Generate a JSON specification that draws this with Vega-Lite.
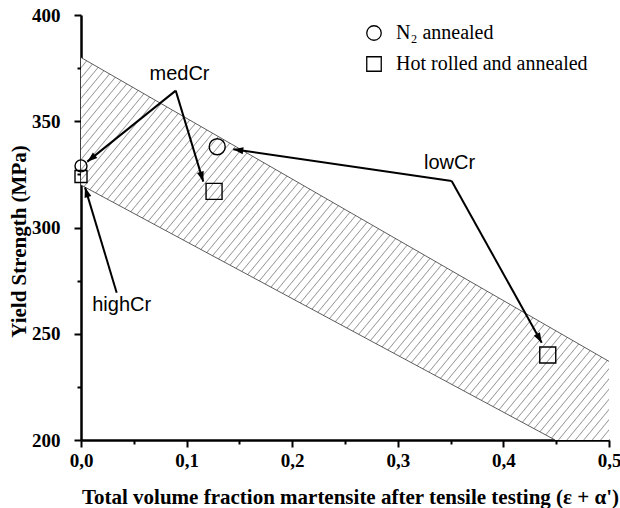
{
  "$schema": "https://vega.github.io/schema/vega-lite/v6.json",
  "width": 528,
  "height": 425,
  "autosize": "none",
  "padding": {"left": 81, "top": 15, "right": 11, "bottom": 68},
  "background": "white",
  "config": {"view": {"stroke": null}},
  "datasets": {
    "band": [
      {"x": 0, "hi": 380, "lo": 320},
      {"x": 0.449, "hi": 251.6, "lo": 200},
      {"x": 0.5, "hi": 237, "lo": 200}
    ],
    "edges": [
      {"x": 0, "y": 380, "x2": 0.5, "y2": 237},
      {"x": 0, "y": 320, "x2": 0.449, "y2": 200}
    ],
    "arrows": [
      {"id": "m1", "x": 0.0897, "y": 364.4, "x2": 0.006, "y2": 331.0},
      {"id": "m2", "x": 0.0897, "y": 364.4, "x2": 0.1158, "y2": 321.6},
      {"id": "h1", "x": 0.0338, "y": 269.3, "x2": 0.0038, "y2": 318.9},
      {"id": "l1", "x": 0.351, "y": 321.9, "x2": 0.1442, "y2": 336.8},
      {"id": "l2", "x": 0.351, "y": 321.9, "x2": 0.4363, "y2": 245.8}
    ],
    "points": [
      {"series": "N₂ annealed", "x": 0, "y": 329},
      {"series": "N₂ annealed", "x": 0.129, "y": 338},
      {"series": "Hot rolled and annealed", "x": 0, "y": 324},
      {"series": "Hot rolled and annealed", "x": 0.126, "y": 317},
      {"series": "Hot rolled and annealed", "x": 0.442, "y": 240}
    ],
    "labels": [
      {"text": "medCr", "x": 0.0933, "y": 372.2},
      {"text": "highCr", "x": 0.0385, "y": 263.5},
      {"text": "lowCr", "x": 0.349, "y": 330.4}
    ]
  },
  "layer": [
    {
      "layer": [
        {
          "data": {"name": "band"},
          "mark": {
            "type": "area",
            "stroke": null,
            "fill": {
              "gradient": "linear", "x1": 0, "y1": 0, "x2": 1.1767, "y2": 0.7057,
              "stops": [
{"offset":0,"color":"#999"},{"offset":0.0013,"color":"#fff"},{"offset":0.0087,"color":"#fff"},
{"offset":0.01,"color":"#999"},{"offset":0.0113,"color":"#fff"},{"offset":0.0187,"color":"#fff"},
{"offset":0.02,"color":"#999"},{"offset":0.0213,"color":"#fff"},{"offset":0.0287,"color":"#fff"},
{"offset":0.03,"color":"#999"},{"offset":0.0313,"color":"#fff"},{"offset":0.0387,"color":"#fff"},
{"offset":0.04,"color":"#999"},{"offset":0.0413,"color":"#fff"},{"offset":0.0487,"color":"#fff"},
{"offset":0.05,"color":"#999"},{"offset":0.0513,"color":"#fff"},{"offset":0.0587,"color":"#fff"},
{"offset":0.06,"color":"#999"},{"offset":0.0613,"color":"#fff"},{"offset":0.0687,"color":"#fff"},
{"offset":0.07,"color":"#999"},{"offset":0.0713,"color":"#fff"},{"offset":0.0787,"color":"#fff"},
{"offset":0.08,"color":"#999"},{"offset":0.0813,"color":"#fff"},{"offset":0.0887,"color":"#fff"},
{"offset":0.09,"color":"#999"},{"offset":0.0913,"color":"#fff"},{"offset":0.0987,"color":"#fff"},
{"offset":0.10,"color":"#999"},{"offset":0.1013,"color":"#fff"},{"offset":0.1087,"color":"#fff"},
{"offset":0.11,"color":"#999"},{"offset":0.1113,"color":"#fff"},{"offset":0.1187,"color":"#fff"},
{"offset":0.12,"color":"#999"},{"offset":0.1213,"color":"#fff"},{"offset":0.1287,"color":"#fff"},
{"offset":0.13,"color":"#999"},{"offset":0.1313,"color":"#fff"},{"offset":0.1387,"color":"#fff"},
{"offset":0.14,"color":"#999"},{"offset":0.1413,"color":"#fff"},{"offset":0.1487,"color":"#fff"},
{"offset":0.15,"color":"#999"},{"offset":0.1513,"color":"#fff"},{"offset":0.1587,"color":"#fff"},
{"offset":0.16,"color":"#999"},{"offset":0.1613,"color":"#fff"},{"offset":0.1687,"color":"#fff"},
{"offset":0.17,"color":"#999"},{"offset":0.1713,"color":"#fff"},{"offset":0.1787,"color":"#fff"},
{"offset":0.18,"color":"#999"},{"offset":0.1813,"color":"#fff"},{"offset":0.1887,"color":"#fff"},
{"offset":0.19,"color":"#999"},{"offset":0.1913,"color":"#fff"},{"offset":0.1987,"color":"#fff"},
{"offset":0.20,"color":"#999"},{"offset":0.2013,"color":"#fff"},{"offset":0.2087,"color":"#fff"},
{"offset":0.21,"color":"#999"},{"offset":0.2113,"color":"#fff"},{"offset":0.2187,"color":"#fff"},
{"offset":0.22,"color":"#999"},{"offset":0.2213,"color":"#fff"},{"offset":0.2287,"color":"#fff"},
{"offset":0.23,"color":"#999"},{"offset":0.2313,"color":"#fff"},{"offset":0.2387,"color":"#fff"},
{"offset":0.24,"color":"#999"},{"offset":0.2413,"color":"#fff"},{"offset":0.2487,"color":"#fff"},
{"offset":0.25,"color":"#999"},{"offset":0.2513,"color":"#fff"},{"offset":0.2587,"color":"#fff"},
{"offset":0.26,"color":"#999"},{"offset":0.2613,"color":"#fff"},{"offset":0.2687,"color":"#fff"},
{"offset":0.27,"color":"#999"},{"offset":0.2713,"color":"#fff"},{"offset":0.2787,"color":"#fff"},
{"offset":0.28,"color":"#999"},{"offset":0.2813,"color":"#fff"},{"offset":0.2887,"color":"#fff"},
{"offset":0.29,"color":"#999"},{"offset":0.2913,"color":"#fff"},{"offset":0.2987,"color":"#fff"},
{"offset":0.30,"color":"#999"},{"offset":0.3013,"color":"#fff"},{"offset":0.3087,"color":"#fff"},
{"offset":0.31,"color":"#999"},{"offset":0.3113,"color":"#fff"},{"offset":0.3187,"color":"#fff"},
{"offset":0.32,"color":"#999"},{"offset":0.3213,"color":"#fff"},{"offset":0.3287,"color":"#fff"},
{"offset":0.33,"color":"#999"},{"offset":0.3313,"color":"#fff"},{"offset":0.3387,"color":"#fff"},
{"offset":0.34,"color":"#999"},{"offset":0.3413,"color":"#fff"},{"offset":0.3487,"color":"#fff"},
{"offset":0.35,"color":"#999"},{"offset":0.3513,"color":"#fff"},{"offset":0.3587,"color":"#fff"},
{"offset":0.36,"color":"#999"},{"offset":0.3613,"color":"#fff"},{"offset":0.3687,"color":"#fff"},
{"offset":0.37,"color":"#999"},{"offset":0.3713,"color":"#fff"},{"offset":0.3787,"color":"#fff"},
{"offset":0.38,"color":"#999"},{"offset":0.3813,"color":"#fff"},{"offset":0.3887,"color":"#fff"},
{"offset":0.39,"color":"#999"},{"offset":0.3913,"color":"#fff"},{"offset":0.3987,"color":"#fff"},
{"offset":0.40,"color":"#999"},{"offset":0.4013,"color":"#fff"},{"offset":0.4087,"color":"#fff"},
{"offset":0.41,"color":"#999"},{"offset":0.4113,"color":"#fff"},{"offset":0.4187,"color":"#fff"},
{"offset":0.42,"color":"#999"},{"offset":0.4213,"color":"#fff"},{"offset":0.4287,"color":"#fff"},
{"offset":0.43,"color":"#999"},{"offset":0.4313,"color":"#fff"},{"offset":0.4387,"color":"#fff"},
{"offset":0.44,"color":"#999"},{"offset":0.4413,"color":"#fff"},{"offset":0.4487,"color":"#fff"},
{"offset":0.45,"color":"#999"},{"offset":0.4513,"color":"#fff"},{"offset":0.4587,"color":"#fff"},
{"offset":0.46,"color":"#999"},{"offset":0.4613,"color":"#fff"},{"offset":0.4687,"color":"#fff"},
{"offset":0.47,"color":"#999"},{"offset":0.4713,"color":"#fff"},{"offset":0.4787,"color":"#fff"},
{"offset":0.48,"color":"#999"},{"offset":0.4813,"color":"#fff"},{"offset":0.4887,"color":"#fff"},
{"offset":0.49,"color":"#999"},{"offset":0.4913,"color":"#fff"},{"offset":0.4987,"color":"#fff"},
{"offset":0.50,"color":"#999"},{"offset":0.5013,"color":"#fff"},{"offset":0.5087,"color":"#fff"},
{"offset":0.51,"color":"#999"},{"offset":0.5113,"color":"#fff"},{"offset":0.5187,"color":"#fff"},
{"offset":0.52,"color":"#999"},{"offset":0.5213,"color":"#fff"},{"offset":0.5287,"color":"#fff"},
{"offset":0.53,"color":"#999"},{"offset":0.5313,"color":"#fff"},{"offset":0.5387,"color":"#fff"},
{"offset":0.54,"color":"#999"},{"offset":0.5413,"color":"#fff"},{"offset":0.5487,"color":"#fff"},
{"offset":0.55,"color":"#999"},{"offset":0.5513,"color":"#fff"},{"offset":0.5587,"color":"#fff"},
{"offset":0.56,"color":"#999"},{"offset":0.5613,"color":"#fff"},{"offset":0.5687,"color":"#fff"},
{"offset":0.57,"color":"#999"},{"offset":0.5713,"color":"#fff"},{"offset":0.5787,"color":"#fff"},
{"offset":0.58,"color":"#999"},{"offset":0.5813,"color":"#fff"},{"offset":0.5887,"color":"#fff"},
{"offset":0.59,"color":"#999"},{"offset":0.5913,"color":"#fff"},{"offset":0.5987,"color":"#fff"},
{"offset":0.60,"color":"#999"},{"offset":0.6013,"color":"#fff"},{"offset":0.6087,"color":"#fff"},
{"offset":0.61,"color":"#999"},{"offset":0.6113,"color":"#fff"},{"offset":0.6187,"color":"#fff"},
{"offset":0.62,"color":"#999"},{"offset":0.6213,"color":"#fff"},{"offset":0.6287,"color":"#fff"},
{"offset":0.63,"color":"#999"},{"offset":0.6313,"color":"#fff"},{"offset":0.6387,"color":"#fff"},
{"offset":0.64,"color":"#999"},{"offset":0.6413,"color":"#fff"},{"offset":0.6487,"color":"#fff"},
{"offset":0.65,"color":"#999"},{"offset":0.6513,"color":"#fff"},{"offset":0.6587,"color":"#fff"},
{"offset":0.66,"color":"#999"},{"offset":0.6613,"color":"#fff"},{"offset":0.6687,"color":"#fff"},
{"offset":0.67,"color":"#999"},{"offset":0.6713,"color":"#fff"},{"offset":0.6787,"color":"#fff"},
{"offset":0.68,"color":"#999"},{"offset":0.6813,"color":"#fff"},{"offset":0.6887,"color":"#fff"},
{"offset":0.69,"color":"#999"},{"offset":0.6913,"color":"#fff"},{"offset":0.6987,"color":"#fff"},
{"offset":0.70,"color":"#999"},{"offset":0.7013,"color":"#fff"},{"offset":0.7087,"color":"#fff"},
{"offset":0.71,"color":"#999"},{"offset":0.7113,"color":"#fff"},{"offset":0.7187,"color":"#fff"},
{"offset":0.72,"color":"#999"},{"offset":0.7213,"color":"#fff"},{"offset":0.7287,"color":"#fff"},
{"offset":0.73,"color":"#999"},{"offset":0.7313,"color":"#fff"},{"offset":0.7387,"color":"#fff"},
{"offset":0.74,"color":"#999"},{"offset":0.7413,"color":"#fff"},{"offset":0.7487,"color":"#fff"},
{"offset":0.75,"color":"#999"},{"offset":0.7513,"color":"#fff"},{"offset":0.7587,"color":"#fff"},
{"offset":0.76,"color":"#999"},{"offset":0.7613,"color":"#fff"},{"offset":0.7687,"color":"#fff"},
{"offset":0.77,"color":"#999"},{"offset":0.7713,"color":"#fff"},{"offset":0.7787,"color":"#fff"},
{"offset":0.78,"color":"#999"},{"offset":0.7813,"color":"#fff"},{"offset":0.7887,"color":"#fff"},
{"offset":0.79,"color":"#999"},{"offset":0.7913,"color":"#fff"},{"offset":0.7987,"color":"#fff"},
{"offset":0.80,"color":"#999"},{"offset":0.8013,"color":"#fff"},{"offset":0.8087,"color":"#fff"},
{"offset":0.81,"color":"#999"},{"offset":0.8113,"color":"#fff"},{"offset":0.8187,"color":"#fff"},
{"offset":0.82,"color":"#999"},{"offset":0.8213,"color":"#fff"},{"offset":0.8287,"color":"#fff"},
{"offset":0.83,"color":"#999"},{"offset":0.8313,"color":"#fff"},{"offset":0.8387,"color":"#fff"},
{"offset":0.84,"color":"#999"},{"offset":0.8413,"color":"#fff"},{"offset":0.8487,"color":"#fff"},
{"offset":0.85,"color":"#999"},{"offset":0.8513,"color":"#fff"},{"offset":0.8587,"color":"#fff"},
{"offset":0.86,"color":"#999"},{"offset":0.8613,"color":"#fff"},{"offset":0.8687,"color":"#fff"},
{"offset":0.87,"color":"#999"},{"offset":0.8713,"color":"#fff"},{"offset":0.8787,"color":"#fff"},
{"offset":0.88,"color":"#999"},{"offset":0.8813,"color":"#fff"},{"offset":0.8887,"color":"#fff"},
{"offset":0.89,"color":"#999"},{"offset":0.8913,"color":"#fff"},{"offset":0.8987,"color":"#fff"},
{"offset":0.90,"color":"#999"},{"offset":0.9013,"color":"#fff"},{"offset":0.9087,"color":"#fff"},
{"offset":0.91,"color":"#999"},{"offset":0.9113,"color":"#fff"},{"offset":0.9187,"color":"#fff"},
{"offset":0.92,"color":"#999"},{"offset":0.9213,"color":"#fff"},{"offset":0.9287,"color":"#fff"},
{"offset":0.93,"color":"#999"},{"offset":0.9313,"color":"#fff"},{"offset":0.9387,"color":"#fff"},
{"offset":0.94,"color":"#999"},{"offset":0.9413,"color":"#fff"},{"offset":0.9487,"color":"#fff"},
{"offset":0.95,"color":"#999"},{"offset":0.9513,"color":"#fff"},{"offset":0.9587,"color":"#fff"},
{"offset":0.96,"color":"#999"},{"offset":0.9613,"color":"#fff"},{"offset":0.9687,"color":"#fff"},
{"offset":0.97,"color":"#999"},{"offset":0.9713,"color":"#fff"},{"offset":0.9787,"color":"#fff"},
{"offset":0.98,"color":"#999"},{"offset":0.9813,"color":"#fff"},{"offset":0.9887,"color":"#fff"},
{"offset":0.99,"color":"#999"},{"offset":0.9913,"color":"#fff"},{"offset":0.9987,"color":"#fff"},
{"offset":1,"color":"#999"}
              ]
            }
          },
          "encoding": {
            "x": {
              "field": "x", "type": "quantitative",
              "scale": {"domain": [0, 0.5], "nice": false, "zero": false},
              "axis": {
                "orient": "bottom",
                "values": [0, 0.1, 0.2, 0.3, 0.4, 0.5],
                "labelExpr": "replace(format(datum.value, '.1f'), '.', ',')",
                "title": "Total volume fraction martensite after tensile testing (ε + α')",
                "grid": false,
                "domainColor": "black", "domainWidth": 2.5,
                "tickColor": "black", "tickWidth": 2, "tickSize": 7,
                "labelFont": "Liberation Serif", "labelFontWeight": "bold", "labelFontSize": 19, "labelColor": "black", "labelPadding": 4,
                "labelFlush": false, "labelOverlap": false,
                "titleFont": "Liberation Serif", "titleFontWeight": "bold", "titleFontSize": 21, "titleColor": "black",
                "titleX": 269, "titleY": 57, "titleBaseline": "middle", "titleAlign": "center"
              }
            },
            "y": {
              "field": "hi", "type": "quantitative",
              "scale": {"domain": [200, 400], "nice": false, "zero": false},
              "axis": {
                "orient": "left",
                "values": [200, 250, 300, 350, 400],
                "title": "Yield Strength (MPa)",
                "grid": false,
                "domainColor": "black", "domainWidth": 2.5,
                "tickColor": "black", "tickWidth": 2, "tickSize": 7,
                "labelFont": "Liberation Serif", "labelFontWeight": "bold", "labelFontSize": 19, "labelColor": "black", "labelPadding": 14,
                "labelFlush": false, "labelOverlap": false,
                "titleFont": "Liberation Serif", "titleFontWeight": "bold", "titleFontSize": 21, "titleColor": "black",
                "titleX": -62, "titleY": 226, "titleBaseline": "middle", "titleAlign": "center", "titleAngle": -90
              }
            },
            "y2": {"field": "lo"}
          }
        },
        {
          "data": {"name": "edges"},
          "mark": {"type": "rule", "color": "#333", "strokeWidth": 0.8},
          "encoding": {
            "x": {"field": "x", "type": "quantitative"},
            "y": {"field": "y", "type": "quantitative"},
            "x2": {"field": "x2"},
            "y2": {"field": "y2"}
          }
        },
        {
          "data": {"name": "arrows"},
          "mark": {"type": "rule", "color": "black", "strokeWidth": 2},
          "encoding": {
            "x": {"field": "x", "type": "quantitative"},
            "y": {"field": "y", "type": "quantitative"},
            "x2": {"field": "x2"},
            "y2": {"field": "y2"}
          }
        },
        {
          "data": {"name": "arrows"},
          "transform": [{"filter": "datum.id == 'm1'"}],
          "mark": {"type": "point", "shape": "M0,0L0.7,2L-0.7,2Z", "angle": 231, "filled": true, "color": "black", "opacity": 1, "size": 100},
          "encoding": {"x": {"field": "x2", "type": "quantitative"}, "y": {"field": "y2", "type": "quantitative"}}
        },
        {
          "data": {"name": "arrows"},
          "transform": [{"filter": "datum.id == 'm2'"}],
          "mark": {"type": "point", "shape": "M0,0L0.7,2L-0.7,2Z", "angle": 163, "filled": true, "color": "black", "opacity": 1, "size": 100},
          "encoding": {"x": {"field": "x2", "type": "quantitative"}, "y": {"field": "y2", "type": "quantitative"}}
        },
        {
          "data": {"name": "arrows"},
          "transform": [{"filter": "datum.id == 'h1'"}],
          "mark": {"type": "point", "shape": "M0,0L0.7,2L-0.7,2Z", "angle": 343, "filled": true, "color": "black", "opacity": 1, "size": 100},
          "encoding": {"x": {"field": "x2", "type": "quantitative"}, "y": {"field": "y2", "type": "quantitative"}}
        },
        {
          "data": {"name": "arrows"},
          "transform": [{"filter": "datum.id == 'l1'"}],
          "mark": {"type": "point", "shape": "M0,0L0.7,2L-0.7,2Z", "angle": 278, "filled": true, "color": "black", "opacity": 1, "size": 100},
          "encoding": {"x": {"field": "x2", "type": "quantitative"}, "y": {"field": "y2", "type": "quantitative"}}
        },
        {
          "data": {"name": "arrows"},
          "transform": [{"filter": "datum.id == 'l2'"}],
          "mark": {"type": "point", "shape": "M0,0L0.7,2L-0.7,2Z", "angle": 151, "filled": true, "color": "black", "opacity": 1, "size": 100},
          "encoding": {"x": {"field": "x2", "type": "quantitative"}, "y": {"field": "y2", "type": "quantitative"}}
        },
        {
          "data": {"name": "points"},
          "transform": [{"filter": "datum.x > 0"}],
          "mark": {"type": "point", "filled": false, "color": "black", "strokeWidth": 1.4, "opacity": 1, "size": 256},
          "encoding": {
            "x": {"field": "x", "type": "quantitative"},
            "y": {"field": "y", "type": "quantitative"},
            "shape": {
              "field": "series", "type": "nominal",
              "scale": {"domain": ["N₂ annealed", "Hot rolled and annealed"], "range": ["circle", "square"]},
              "legend": {
                "title": null, "orient": "none", "legendX": 283, "legendY": 8,
                "symbolSize": 210, "symbolStrokeColor": "black", "symbolStrokeWidth": 1.3, "symbolOpacity": 1,
                "labelFont": "Liberation Serif", "labelFontSize": 20, "labelColor": "black", "labelOffset": 12, "labelLimit": 0,
                "rowPadding": 11, "padding": 0
              }
            }
          }
        },
        {
          "data": {"name": "points"},
          "transform": [{"filter": "datum.x == 0"}],
          "mark": {"type": "point", "filled": false, "color": "black", "strokeWidth": 1.4, "opacity": 1, "size": 144},
          "encoding": {
            "x": {"field": "x", "type": "quantitative"},
            "y": {"field": "y", "type": "quantitative"},
            "shape": {"field": "series", "type": "nominal"}
          }
        },
        {
          "data": {"name": "labels"},
          "mark": {"type": "text", "font": "Liberation Sans", "fontSize": 20, "color": "black", "align": "center", "baseline": "middle"},
          "encoding": {
            "x": {"field": "x", "type": "quantitative"},
            "y": {"field": "y", "type": "quantitative"},
            "text": {"field": "text"}
          }
        }
      ]
    },
    {
      "data": {"name": "points"},
      "transform": [{"filter": "false"}],
      "mark": {"type": "point"},
      "encoding": {
        "x": {
          "field": "x", "type": "quantitative",
          "axis": {"orient": "bottom", "values": [0.05, 0.15, 0.25, 0.35, 0.45], "labels": false, "domain": false, "grid": false, "title": null, "tickColor": "black", "tickWidth": 2, "tickSize": 4}
        },
        "y": {
          "field": "y", "type": "quantitative",
          "axis": {"orient": "left", "values": [225, 275, 325, 375], "labels": false, "domain": false, "grid": false, "title": null, "tickColor": "black", "tickWidth": 2, "tickSize": 4}
        }
      }
    }
  ],
  "resolve": {"axis": {"x": "independent", "y": "independent"}}
}
